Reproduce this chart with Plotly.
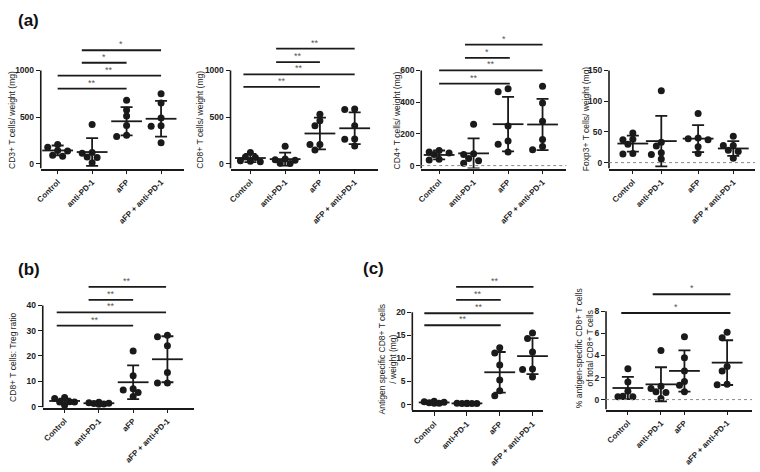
import plotly.graph_objects as go

W, H = 760, 472
GROUPS = ['Control', 'anti-PD-1', 'aFP', 'aFP + anti-PD-1']
FONT = 'Arial, Liberation Sans, sans-serif'
INK = '#1a1a1a'

# (a) CD3+ T cells / weight (mg)
cd3_points = [[205, 175, 140, 135, 90, 80], [420, 120, 110, 70, 65, 10],
              [680, 575, 510, 410, 305, 290], [750, 650, 490, 405, 400, 225]]
cd3_mean = [141, 124, 454, 481]
cd3_sd = [53, 149, 151, 191]
cd3_sig = [(0.0, 2.0, '**', 805), (0.0, 3.0, '**', 943), (0.7, 2.0, '*', 1082), (0.7, 3.0, '*', 1216)]

# (a) CD8+ T cells / weight (mg)
cd8_points = [[120, 70, 65, 30, 25, 20], [185, 50, 40, 35, 5, 0],
              [530, 460, 405, 205, 205, 145], [585, 580, 405, 265, 260, 190]]
cd8_mean = [60, 48, 323, 379]
cd8_sd = [45, 70, 170, 170]
cd8_sig = [(-0.2, 2.0, '**', 823), (-0.2, 3.0, '**', 957), (0.74, 2.0, '**', 1089), (0.74, 3.0, '**', 1234)]

# (a) CD4+ T cells / weight (mg)
cd4_points = [[95, 85, 80, 70, 40, 35], [260, 75, 70, 45, 30, 15],
              [485, 465, 250, 155, 135, 85], [500, 395, 280, 165, 120, 100]]
cd4_mean = [67, 77, 261, 259]
cd4_sd = [28, 94, 172, 161]
cd4_sig = [(0.0, 2.05, '**', 516), (0.0, 3.0, '**', 600), (0.75, 2.05, '*', 679), (0.75, 3.0, '*', 763)]

# (a) Foxp3+ T cells / weight (mg)
foxp3_points = [[48, 38, 37, 30, 15, 14], [117, 33, 27, 16, 13, 6],
                [80, 40, 39, 37, 26, 15], [43, 28, 28, 20, 18, 7]]
foxp3_mean = [31, 35, 39, 23]
foxp3_sd = [13, 41, 22, 12]
foxp3_sig = []

# (b) CD8+ T cells : Treg ratio
ratio_points = [[3.6, 3.2, 1.9, 1.8, 1.8, 0.5], [1.7, 1.5, 1.3, 1.2, 1.0, 0.9],
                [22, 12.2, 7, 6.5, 5.5, 4], [28.2, 27.6, 24, 13.5, 9.3, 9.3]]
ratio_mean = [2.2, 1.3, 9.6, 18.7]
ratio_sd = [0.9, 0.3, 6.7, 9.1]
ratio_sig = [(-0.23, 2.0, '**', 32), (-0.23, 2.96, '**', 37.2), (0.7, 2.0, '**', 42.2), (0.7, 2.96, '**', 47.3)]

# (c) antigen specific CD8+ T cells / weight (mg)
ag_points = [[0.7, 0.6, 0.5, 0.4, 0.3, 0.3], [0.3, 0.3, 0.25, 0.2, 0.2, 0.2],
             [12.3, 11.2, 8.6, 5.3, 3.0, 1.9], [15.5, 14.3, 11.4, 7.7, 7.6, 6.0]]
ag_mean = [0.45, 0.25, 7.0, 10.5]
ag_sd = [0.15, 0.05, 4.4, 3.9]
ag_sig = [(-0.3, 2.03, '**', 17.2), (-0.3, 3.03, '**', 19.8), (0.67, 2.03, '**', 22.7), (0.67, 3.03, '**', 25.5)]

# (c) % antigen-specific of total CD8+
pct_points = [[2.8, 1.6, 0.75, 0.3, 0.25, 0.25], [4.45, 1.2, 1.0, 0.7, 0.65, 0.1],
              [5.7, 3.8, 2.6, 1.65, 1.3, 0.7], [6.1, 5.6, 3.0, 2.6, 1.4, 1.35]]
pct_mean = [1.05, 1.38, 2.6, 3.35]
pct_sd = [1.0, 1.55, 1.87, 2.03]
pct_sig = [(-0.2, 3.1, '*', 7.85), (0.75, 3.1, '*', 9.55)]

PANELS = [
    dict(pts=cd3_points, mean=cd3_mean, sd=cd3_sd, sig=cd3_sig, yticks=[0, 500, 1000],
         title='CD3+ T cells/ weight (mg)', title_xy=(7, 121), zero=False, pos=[0, 1, 2, 3],
         geo=dict(ax=36, right=180, c0=53, step=34.7, base=170, ref=((0, 165), (1000, 71)), top=35)),
    dict(pts=cd8_points, mean=cd8_mean, sd=cd8_sd, sig=cd8_sig, yticks=[0, 500, 1000],
         title='CD8+ T cells/ weight (mg)', title_xy=(196, 121), zero=False, pos=[0, 1, 2, 3],
         geo=dict(ax=227, right=375, c0=247, step=35, base=170, ref=((0, 165), (1000, 71)), top=35)),
    dict(pts=cd4_points, mean=cd4_mean, sd=cd4_sd, sig=cd4_sig, yticks=[0, 200, 400, 600],
         title='CD4+ T cells/ weight (mg)', title_xy=(395, 121), zero=True, pos=[0, 1, 2, 3],
         geo=dict(ax=419, right=565, c0=437, step=34.7, base=170, ref=((0, 167), (600, 71)), top=35)),
    dict(pts=foxp3_points, mean=foxp3_mean, sd=foxp3_sd, sig=foxp3_sig, yticks=[0, 50, 100, 150],
         title='Foxp3+ T cells/ weight (mg)', title_xy=(585, 120), zero=True, pos=[0, 0.85, 1.95, 3],
         geo=dict(ax=608, right=755, c0=632, step=33.7, base=170, ref=((0, 164), (150, 71)), top=60)),
    dict(pts=ratio_points, mean=ratio_mean, sd=ratio_sd, sig=ratio_sig, yticks=[0, 10, 20, 30, 40],
         title='CD8+ T cells: Treg ratio', title_xy=(8, 360), zero=False, pos=[0, 1, 2, 3],
         geo=dict(ax=38, right=190, c0=60, step=34.5, base=411, ref=((0, 410), (40, 308)), top=275)),
    dict(pts=ag_points, mean=ag_mean, sd=ag_sd, sig=ag_sig, yticks=[0, 5, 10, 15, 20],
         title='Antigen specific CD8+ T cells<br>/ weight (mg)', title_xy=(385, 362), zero=False,
         pos=[0, 1, 2, 3],
         geo=dict(ax=410, right=542, c0=432, step=33, base=414, ref=((0, 408), (20, 315)), top=275)),
    dict(pts=pct_points, mean=pct_mean, sd=pct_sd, sig=pct_sig, yticks=[0, 2, 4, 6, 8],
         title='% antigen-specific CD8+ T cells<br>of total CD8+ T cells', title_xy=(583, 351),
         zero=True, pos=[0, 1, 1.71, 3],
         geo=dict(ax=605, right=752, c0=627, step=33.3, base=413, ref=((0, 403), (8, 314)), top=275)),
]

PANEL_LABELS = [('(a)', 24, 21), ('(b)', 24, 272), ('(c)', 371, 271)]


def swarm(vals, k, d=5.0, gap=6.0):
    # GraphPad-like horizontal spreading; dots may overlap a little, as in the original
    placed, offs = [], []
    for v in vals:
        y = v * k
        best, best_d = 0, -1
        for c in [0, -1, 1, -2, 2]:
            x = c * d
            near = min([((x - px) ** 2 + (y - py) ** 2) ** 0.5 for px, py in placed] or [99])
            if near >= gap:
                best = x
                break
            if near > best_d:
                best, best_d = x, near
        placed.append((best, y))
        offs.append(best)
    return offs


fig = go.Figure()
layout = {}
shapes, annotations = [], []

for i, p in enumerate(PANELS):
    n = '' if i == 0 else str(i + 1)
    g = p['geo']
    (va, pa), (vb, pb) = g['ref']
    k = (pa - pb) / (vb - va)
    ylo = va - (g['base'] - pa) / k
    yhi = va + (pa - g['top']) / k
    xlo = (g['ax'] - g['c0']) / g['step']
    xhi = (g['right'] - g['c0']) / g['step']

    layout['xaxis' + n] = dict(
        domain=[g['ax'] / W, g['right'] / W], range=[xlo, xhi], anchor='y' + n,
        tickvals=p['pos'], ticktext=GROUPS, tickangle=-45,
        showline=True, linecolor=INK, linewidth=1.6, ticks='outside', ticklen=4,
        tickwidth=1.4, tickcolor=INK, showgrid=False, zeroline=False,
        tickfont=dict(family=FONT, size=8, color='#222', weight='bold'))
    layout['yaxis' + n] = dict(
        domain=[1 - g['base'] / H, 1 - g['top'] / H], range=[ylo, yhi], anchor='x' + n,
        tickvals=p['yticks'], showline=False, ticks='outside', ticklen=4, tickwidth=1.4,
        tickcolor=INK, showgrid=False, zeroline=False,
        tickfont=dict(family=FONT, size=8.5, color='#222', weight='bold'))

    # y axis line only up to the last tick (GraphPad style)
    shapes.append(dict(type='line', xref='x' + n + ' domain', yref='y' + n,
                       x0=0, x1=0, y0=ylo, y1=p['yticks'][-1],
                       line=dict(color=INK, width=1.6)))
    if p['zero']:
        shapes.append(dict(type='line', xref='x' + n + ' domain', yref='y' + n,
                           x0=0, x1=1, y0=0, y1=0,
                           line=dict(color='#888', width=1, dash='dot')))

    xs, ys = [], []
    for gi, vals in enumerate(p['pts']):
        for off, v in zip(swarm(vals, k), vals):
            xs.append(p['pos'][gi] + off / g['step'])
            ys.append(v)
    fig.add_trace(go.Scatter(
        x=xs, y=ys, mode='markers', xaxis='x' + n, yaxis='y' + n, showlegend=False,
        marker=dict(color=INK, size=7), cliponaxis=False, hoverinfo='skip'))
    fig.add_trace(go.Scatter(
        x=p['pos'], y=p['mean'], mode='markers', xaxis='x' + n, yaxis='y' + n,
        showlegend=False, cliponaxis=False,
        marker=dict(symbol='line-ew', size=22, line=dict(color=INK, width=1.8)),
        error_y=dict(type='data', array=p['sd'], visible=True, color=INK,
                     thickness=1.8, width=6)))

    for x0, x1, lab, lev in p['sig']:
        shapes.append(dict(type='line', xref='x' + n, yref='y' + n,
                           x0=x0, x1=x1, y0=lev, y1=lev,
                           line=dict(color=INK, width=1.8)))
        annotations.append(dict(x=(x0 + x1) / 2, y=lev, xref='x' + n, yref='y' + n,
                                text=lab, showarrow=False, yanchor='bottom', yshift=-1,
                                font=dict(family=FONT, size=9, color='#555')))

    tx, ty = p['title_xy']
    annotations.append(dict(x=tx / W, y=1 - ty / H, xref='paper', yref='paper',
                            text=p['title'], textangle=-90, showarrow=False,
                            xanchor='center', yanchor='middle',
                            font=dict(family=FONT, size=8.5, color='#222')))

for lab, x, y in PANEL_LABELS:
    annotations.append(dict(x=x / W, y=1 - y / H, xref='paper', yref='paper', text='<b>' + lab + '</b>',
                            showarrow=False, xanchor='center', yanchor='middle',
                            font=dict(family=FONT, size=17, color='#111')))

fig.update_layout(
    width=W, height=H, margin=dict(l=0, r=0, t=0, b=0),
    paper_bgcolor='white', plot_bgcolor='white',
    shapes=shapes, annotations=annotations, **layout)

# page margin off so the figure sits at the window's corner; no toolbar
fig.write_html("out.html", config={'displayModeBar': False},
               post_script="document.body.style.margin='0';")
